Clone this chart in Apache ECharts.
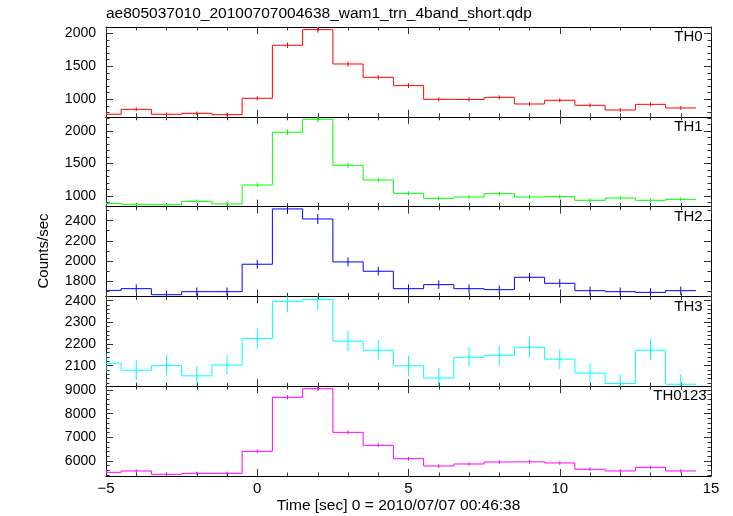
<!DOCTYPE html>
<html><head><meta charset="utf-8">
<script src="https://cdn.jsdelivr.net/npm/echarts@6/dist/echarts.min.js"></script>
<style>html,body{margin:0;padding:0;background:#fff}#c{width:733px;height:516px}</style>
</head><body><div id="c"></div>
<script>
var binCenters = [-5,-4,-3,-2,-1,0,1,2,3,4,5,6,7,8,9,10,11,12,13,14];
var th0    = [773,848,773,788,767,1015,1818,2055,1535,1333,1207,1000,998,1030,929,985,909,838,924,869];
var th0Err = [28,29,28,28,28,32,43,45,39,37,35,32,32,32,30,31,30,29,30,29];
var th1    = [887,872,866,918,877,1169,1980,2180,1472,1246,1041,964,985,1036,985,990,934,969,934,949];
var th1Err = [30,30,29,30,30,34,44,47,38,35,32,31,31,32,31,31,31,31,31,31];
var th2    = [1707,1724,1664,1694,1694,1967,2517,2417,1990,1897,1724,1764,1724,1714,1837,1777,1704,1694,1687,1704];
var th2Err = [41,42,41,41,41,44,50,49,45,44,42,42,42,41,43,42,41,41,41,41];
var th3    = [2111,2079,2100,2053,2103,2226,2397,2406,2213,2171,2099,2043,2139,2148,2185,2130,2066,2017,2171,2014];
var th3Err = [46,46,46,45,46,47,49,49,47,47,46,45,46,46,47,46,45,45,47,45];
var th0123    = [5522,5578,5437,5480,5480,6409,8690,9056,7211,6662,6098,5789,5873,5958,5965,5916,5650,5578,5733,5578];
var th0123Err = [74,75,74,74,74,80,93,95,85,82,78,76,77,77,77,77,75,75,76,75];

var panelNames = ['TH0','TH1','TH2','TH3','TH0123'];
var yTicks = [[1000,1500,2000],[1000,1500,2000],[1800,2000,2200,2400],[2100,2200,2300,2400],[6000,7000,8000,9000]];
var yMin = [735, 837, 1647, 2005, 5366];
var yMax = [2095, 2218, 2540, 2420, 9160];
var yMinorStep = [100, 100, 100, 20, 200];
var xTicks = [-5, 0, 5, 10, 15];

var seriesVals = [th0, th1, th2, th3, th0123];
var seriesErrs = [th0Err, th1Err, th2Err, th3Err, th0123Err];
var colors = ['#ff0000','#00ff00','#0000ff','#00ffff','#ff00ff'];

var FONT = "'Liberation Sans', Arial, Helvetica, sans-serif";
var gridTop = 27, gridH = 89.8, gridLeft = 106, gridRight = 22;
var labelRight = [702.7, 702.7, 702.7, 702.7, 706.7];
var labelTopOff = [2.2, 3.0, 3.2, 3.4, 2.0];

function minorList(i){
  var out = [], s = yMinorStep[i];
  var start = Math.ceil(yMin[i] / s) * s;
  for (var v = start; v <= yMax[i]; v += s) out.push(v);
  return out;
}
function makeRender(vals, color){
  return function(params, api){
    var i = params.dataIndex;
    var x = api.value(0), v = api.value(1), e = api.value(2);
    var L = api.coord([x - 0.5, v]), R = api.coord([x + 0.5, v]);
    function ln(a, b){ return {type:'line', shape:{x1:a[0],y1:a[1],x2:b[0],y2:b[1]}, style:{stroke:color, lineWidth:1, fill:null}}; }
    var ch = [ln(L, R)];
    if (i > 0) ch.push(ln(api.coord([x - 0.5, vals[i-1]]), L));
    ch.push(ln(api.coord([x, v + e]), api.coord([x, v - e])));
    return {type:'group', children: ch};
  };
}

var grids = [], xAxes = [], yAxes = [], series = [], graphics = [];
var tickColor = '#333';
for (var k = 0; k < 10; k++){
  var i = k % 5;
  grids.push({left: gridLeft, right: gridRight, top: gridTop + i*gridH, height: gridH, containLabel:false});
}
var xBase = function(i, pos, showLabel){
  return {
    gridIndex: i, type:'value', min:-5, max:15, interval:5, position: pos,
    axisLine:{show:true, onZero:false, lineStyle:{color:'#000', width:1}},
    axisTick:{show:true, inside:true, length:7, lineStyle:{color:tickColor, width:1}},
    minorTick:{show:true, splitNumber:5, length:3.5, lineStyle:{color:tickColor, width:1}},
    splitLine:{show:false}, minorSplitLine:{show:false},
    axisLabel:{show: showLabel, fontFamily: FONT, fontSize:15, color:'#000', margin:5,
      formatter: function(v){ return v < 0 ? '\u2212' + Math.abs(v) : String(v); }}
  };
};
for (var i = 0; i < 5; i++){
  xAxes.push(xBase(i, 'bottom', i === 4));
  xAxes.push(xBase(i, 'top', false));
}
for (var i = 0; i < 5; i++){
  xAxes.push({gridIndex: 5 + i, type:'value', min:-5, max:15, show:false, axisLine:{onZero:false}});
}
for (var i = 0; i < 5; i++){
  ['left','right'].forEach(function(pos){
    yAxes.push({
      gridIndex: i, type:'value', min: yMin[i], max: yMax[i], position: pos,
      axisLine:{show:true, onZero:false, lineStyle:{color:'#000', width:1}},
      axisTick:{show:true, inside:true, length:7, customValues: yTicks[i], lineStyle:{color:tickColor, width:1}},
      axisLabel:{show: pos === 'left', customValues: yTicks[i], fontFamily: FONT, fontSize:14, color:'#000', margin:10,
        formatter: function(v){ return String(v); }},
      splitLine:{show:false}
    });
  });
}
for (var i = 0; i < 5; i++){
  var mins = minorList(i);
  ['left','right'].forEach(function(pos){
    yAxes.push({
      gridIndex: 5 + i, type:'value', min: yMin[i], max: yMax[i], position: pos,
      axisLine:{show:false, onZero:false},
      axisTick:{show:true, inside:true, length:3.5, customValues: mins, lineStyle:{color:tickColor, width:1}},
      axisLabel:{show:false}, splitLine:{show:false}
    });
  });
}
for (var i = 0; i < 5; i++){
  var vals = seriesVals[i], errs = seriesErrs[i];
  series.push({
    type:'custom', xAxisIndex: i*2, yAxisIndex: i*2, clip: true, silent: true,
    renderItem: makeRender(vals, colors[i]),
    encode:{x:0, y:1},
    data: binCenters.map(function(x, j){ return [x, vals[j], errs[j]]; }),
    z: 2
  });
  graphics.push({type:'text', right: 733 - labelRight[i], top: gridTop + i*gridH + labelTopOff[i],
    style:{text: panelNames[i], font: '15px ' + FONT, fill:'#000'}});
}
graphics.push({type:'text', left: 106, top: 6,
  style:{text:'ae805037010_20100707004638_wam1_trn_4band_short.qdp', font:'15.5px ' + FONT, fill:'#000'}});
graphics.push({type:'text', x: 398.5, y: 506, style:{text:'Time [sec] 0 = 2010/07/07 00:46:38', font:'15.5px ' + FONT, fill:'#000', align:'center', verticalAlign:'middle'}});
graphics.push({type:'text', x: 43.5, y: 251, rotation: Math.PI/2, style:{text:'Counts/sec', font:'15px ' + FONT, fill:'#000', align:'center', verticalAlign:'middle'}});

var chart = echarts.init(document.getElementById('c'), null, {renderer:'canvas'});
chart.setOption({
  animation:false, backgroundColor:'#fff',
  grid: grids, xAxis: xAxes, yAxis: yAxes, series: series, graphic: graphics
});
</script></body></html>
